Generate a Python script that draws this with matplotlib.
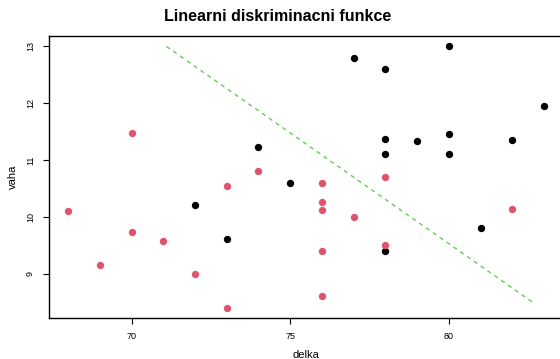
import numpy as np
import matplotlib.pyplot as plt

plt.rcParams['font.family'] = ['Liberation Sans', 'DejaVu Sans']

# skupina 1 (cervena)
delka1 = [68, 69, 70, 70, 71, 72, 73, 73, 74, 76, 76, 76, 76, 76, 77, 78, 78, 82]
vaha1 = [10.1, 9.15, 11.48, 9.73, 9.57, 9.0, 10.54, 8.4, 10.8, 10.59, 10.26, 10.12,
         9.4, 8.6, 10.0, 10.7, 9.5, 10.14]

# skupina 2 (cerna)
delka2 = [72, 73, 74, 75, 77, 78, 78, 78, 78, 79, 80, 80, 80, 81, 82, 83]
vaha2 = [10.2, 9.6, 11.23, 10.6, 12.8, 12.6, 11.37, 11.1, 9.4, 11.33, 13.0, 11.45,
         11.1, 9.8, 11.35, 11.95]

# hranice
hranice_x = [71.1, 82.65]
hranice_y = [13.0, 8.49]

fig = plt.figure(figsize=(5.6, 3.59), dpi=100)
ax = fig.add_axes([0.0875, 0.1142, 0.918, 0.7855])

ax.scatter(delka2, vaha2, s=28, color='black', zorder=3, linewidths=0)
ax.scatter(delka1, vaha1, s=28, color='#DF536B', zorder=3, linewidths=0)
ax.plot(hranice_x, hranice_y, color='#61D04F', linestyle=(0, (3, 3)), linewidth=1)

xall = delka1 + delka2
yall = vaha1 + vaha2
dx = (max(xall) - min(xall)) * 0.04
dy = (max(yall) - min(yall)) * 0.04
ax.set_xlim(min(xall) - dx, max(xall) + dx)
ax.set_ylim(min(yall) - dy, max(yall) + dy)

ax.set_xticks([70, 75, 80])
ax.set_yticks([9, 10, 11, 12, 13])
ax.tick_params(labelsize=6.5, length=4, width=0.8, pad=6)
for lab in ax.get_yticklabels():
    lab.set_rotation(90)
    lab.set_va('center')
for s in ax.spines.values():
    s.set_linewidth(1)

ax.set_xlabel('delka', fontsize=8, labelpad=6.5)
ax.set_ylabel('vaha', fontsize=8, labelpad=6)
fig.text(0.495, 0.955, 'Linearni diskriminacni funkce', ha='center', va='center',
         fontsize=11.5, fontweight='bold')

fig.savefig('out.png', dpi=100)
